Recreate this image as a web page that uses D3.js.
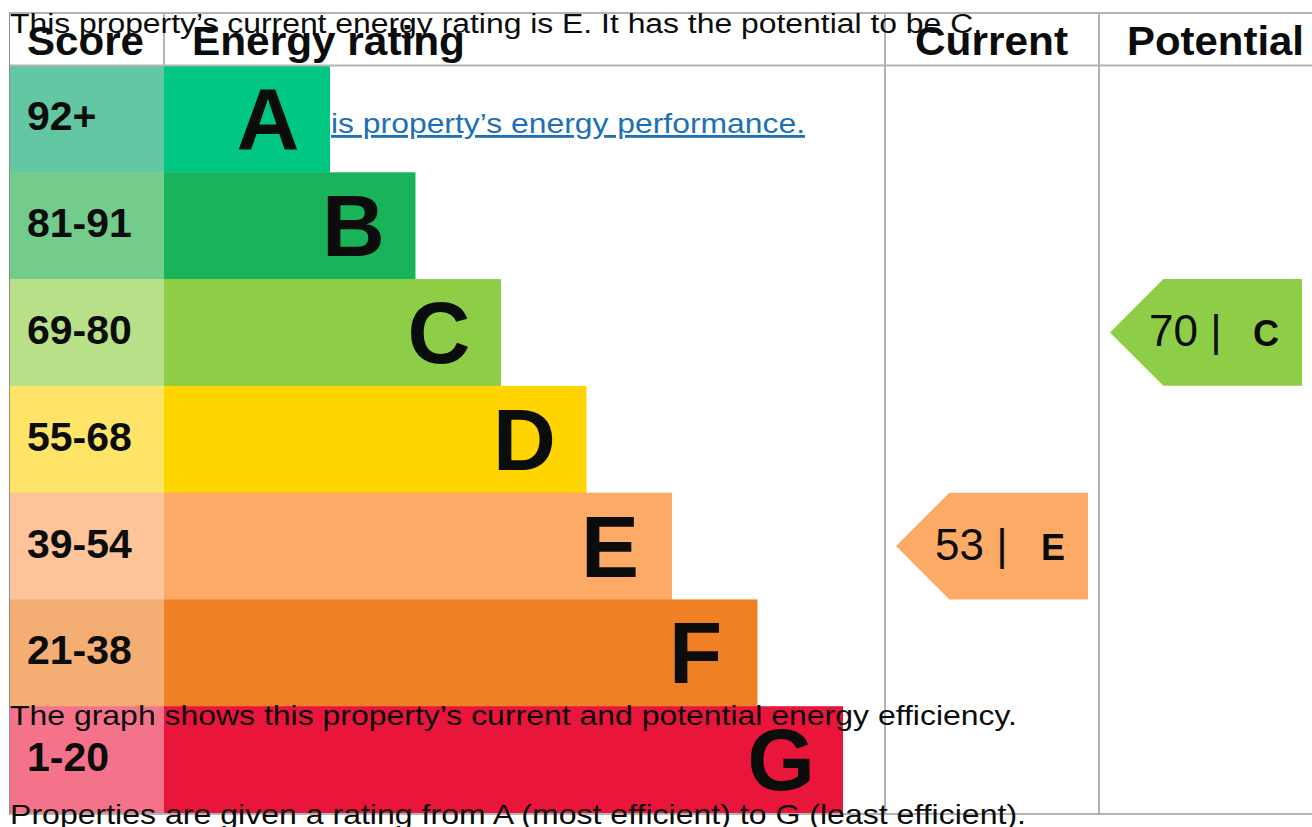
<!DOCTYPE html>
<html>
<head>
<meta charset="utf-8">
<script src="https://cdn.jsdelivr.net/npm/d3@7/dist/d3.min.js"></script>
<style>
  html, body { margin: 0; padding: 0; background: #fff; overflow: hidden; }
  svg { display: block; }
  text { font-family: "Liberation Sans", Arial, Helvetica, sans-serif; fill: #0b0c0c; }
</style>
</head>
<body>
<svg id="chart" width="1312" height="827"></svg>
<script>
// ---- data ----
const bands = ["A", "B", "C", "D", "E", "F", "G"];
const scoreRanges = ["92+", "81-91", "69-80", "55-68", "39-54", "21-38", "1-20"];
const bandColors = ["#00c781", "#19b459", "#8dce46", "#ffd500", "#fcaa65", "#ef8023", "#e9153b"];
const scoreColors = ["#64c7a4", "#74cc8c", "#b7e089", "#ffe468", "#fec499", "#f4ad72", "#f5738a"];
const headers = ["Score", "Energy rating", "Current", "Potential"];
const currentScore = 53, currentBand = "E";
const potentialScore = 70, potentialBand = "C";
const summaryText = "This property\u2019s current energy rating is E. It has the potential to be C.";
const linkText = "is property\u2019s energy performance.";
const captionTexts = [
  "The graph shows this property\u2019s current and potential energy efficiency.",
  "Properties are given a rating from A (most efficient) to G (least efficient)."
];

(function () {
// ---- layout ----
const svg = d3.select("#chart");
const xLeft = 9, scoreRight = 164, curLeft = 885, potLeft = 1099, xRight = 1313;
const yTop = 13, headBottom = 65.5, bodyBottom = 813;
const y = d3.scaleBand().domain(bands).range([headBottom, bodyBottom]).paddingInner(0).paddingOuter(0);
const barEnd = d3.scaleLinear().domain([0, bands.length - 1]).range([330, 843]);
const grid = "#b1b4b6";

// score cells
svg.selectAll("rect.score").data(bands).join("rect").attr("class", "score")
  .attr("x", xLeft + 0.5).attr("y", d => y(d))
  .attr("width", scoreRight - xLeft - 0.5).attr("height", y.bandwidth() + 0.5)
  .attr("fill", (d, i) => scoreColors[i]);

// bars
svg.selectAll("rect.bar").data(bands).join("rect").attr("class", "bar")
  .attr("x", scoreRight).attr("y", d => y(d))
  .attr("width", (d, i) => barEnd(i) - scoreRight).attr("height", y.bandwidth() + 0.5)
  .attr("fill", (d, i) => bandColors[i]);

// grid lines
const g = svg.append("g").attr("stroke", grid).attr("stroke-width", 2).attr("fill", "none");
g.append("line").attr("x1", xLeft).attr("x2", xRight).attr("y1", yTop).attr("y2", yTop);
g.append("line").attr("x1", xLeft).attr("x2", xRight).attr("y1", headBottom).attr("y2", headBottom);
g.append("line").attr("x1", xLeft).attr("x2", xRight).attr("y1", bodyBottom + 1).attr("y2", bodyBottom + 1);
g.append("line").attr("x1", scoreRight).attr("x2", scoreRight).attr("y1", yTop).attr("y2", headBottom);
g.append("line").attr("x1", curLeft).attr("x2", curLeft).attr("y1", yTop).attr("y2", bodyBottom + 1);
g.append("line").attr("x1", potLeft).attr("x2", potLeft).attr("y1", yTop).attr("y2", bodyBottom + 1);
svg.append("line").attr("x1", xLeft + 0.5).attr("x2", xLeft + 0.5).attr("y1", yTop).attr("y2", bodyBottom + 1)
  .attr("stroke", "#8a8c8e").attr("stroke-width", 1);

// headers
const headX = [27, 192, 915, 1127];
const headLen = [117, 273, 153, 177];
svg.selectAll("text.head").data(headers).join("text").attr("class", "head")
  .attr("x", (d, i) => headX[i]).attr("y", 55)
  .attr("font-size", 40).attr("font-weight", "bold")
  .attr("textLength", (d, i) => headLen[i]).attr("lengthAdjust", "spacingAndGlyphs")
  .text(d => d);

// score labels
svg.selectAll("text.range").data(bands).join("text").attr("class", "range")
  .attr("x", 27).attr("y", d => y(d) + y.bandwidth() / 2 + 11.5)
  .attr("font-size", 41).attr("font-weight", "bold")
  .text((d, i) => scoreRanges[i]);

// band letters
svg.selectAll("text.letter").data(bands).join("text").attr("class", "letter")
  .attr("x", (d, i) => barEnd(i) - 62).attr("y", d => y(d) + y.bandwidth() / 2 + 30.5)
  .attr("text-anchor", "middle")
  .attr("font-size", 87).attr("font-weight", "bold")
  .text(d => d);

// arrows
function arrow(colLeft, colRight, score, band) {
  const i = bands.indexOf(band);
  const y0 = y(band), h = y.bandwidth(), yc = y0 + h / 2;
  const tip = colLeft + 11, rx = colRight - 11;
  const pts = [[tip, yc], [tip + h / 2, y0], [rx, y0], [rx, y0 + h], [tip + h / 2, y0 + h]];
  svg.append("path").attr("d", d3.line()(pts) + "Z").attr("fill", bandColors[i]);
  svg.append("text").attr("x", tip + 39).attr("y", yc + 14)
    .attr("font-size", 44).text(score + " |");
  svg.append("text").attr("x", rx - 23).attr("y", yc + 14).attr("text-anchor", "end")
    .attr("font-size", 36).attr("font-weight", "bold").text(band);
}
arrow(curLeft, potLeft, currentScore, currentBand);
arrow(potLeft, xRight, potentialScore, potentialBand);

// link text
svg.append("text").attr("x", 331).attr("y", 133)
  .attr("font-size", 28).style("fill", "#1d70b8")
  .attr("text-decoration", "underline")
  .attr("textLength", 474).attr("lengthAdjust", "spacingAndGlyphs")
  .text(linkText);

// overlay summary texts
svg.append("text").attr("x", 10).attr("y", 33)
  .attr("font-size", 27)
  .attr("textLength", 972).attr("lengthAdjust", "spacingAndGlyphs")
  .text(summaryText);
const capLen = [1007, 1016];
const capY = [725, 824];
svg.selectAll("text.cap").data(captionTexts).join("text").attr("class", "cap")
  .attr("x", 10).attr("y", (d, i) => capY[i])
  .attr("font-size", 28)
  .attr("textLength", (d, i) => capLen[i]).attr("lengthAdjust", "spacingAndGlyphs")
  .text(d => d);
})();
</script>
</body>
</html>
